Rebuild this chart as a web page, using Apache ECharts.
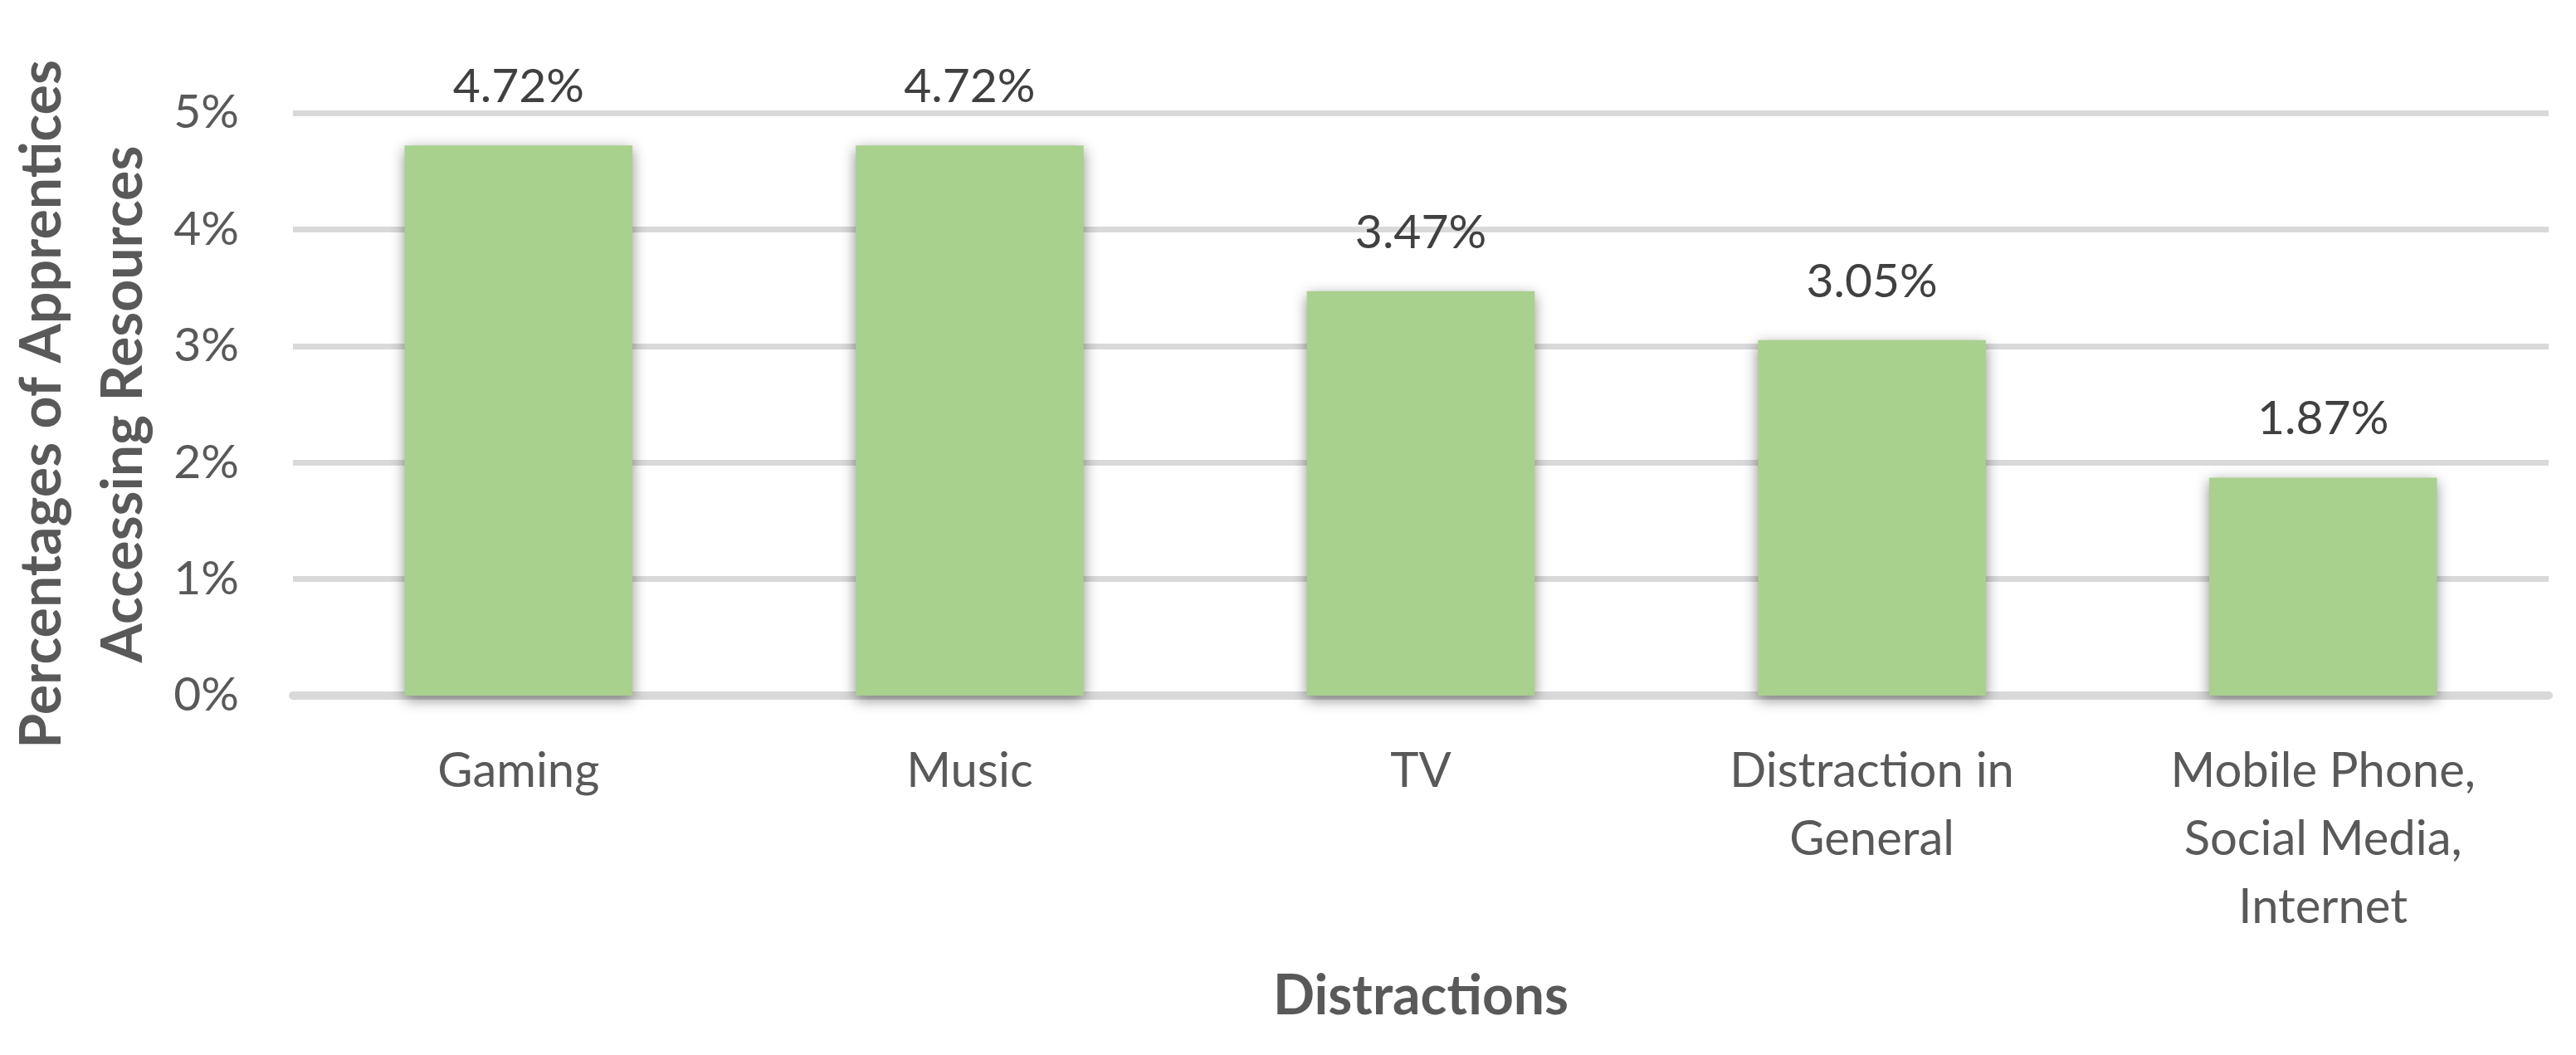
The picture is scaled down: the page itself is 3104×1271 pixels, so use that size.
<!DOCTYPE html>
<html>
<head>
<meta charset="utf-8">
<title>Distractions</title>
<script src="https://cdn.jsdelivr.net/npm/echarts@6/dist/echarts.min.js"></script>
<style>
  html, body { margin: 0; padding: 0; background: #fff; }
  #chart { width: 3104px; height: 1271px; }
</style>
</head>
<body>
<div id="chart"></div>
<script>
// categories along the x axis
const categories = [
  'Gaming',
  'Music',
  'TV',
  'Distraction in\nGeneral',
  'Mobile Phone,\nSocial Media,\nInternet'
]
// percentage of apprentices for each distraction
const values = [4.72, 4.72, 3.47, 3.05, 1.87]
// y axis ticks (percent)
const yMin = 0
const yMax = 5
const yStep = 1

const FONT = 'Lato, "Noto Sans", sans-serif'

const chart = echarts.init(document.getElementById('chart'))
chart.setOption({
  backgroundColor: '#ffffff',
  animation: false,
  grid: { left: 353, right: 33, top: 136, bottom: 433, outerBoundsMode: 'none', containLabel: false },
  xAxis: {
    type: 'category',
    data: categories,
    name: 'Distractions',
    nameLocation: 'middle',
    nameGap: 330,
    nameTextStyle: { fontFamily: FONT, fontSize: 66, fontWeight: 'bold', color: '#595959' },
    axisLine: { show: true, lineStyle: { color: '#d9d9d9', width: 10 } },
    axisTick: { show: false },
    axisLabel: {
      interval: 0,
      margin: 50,
      fontFamily: FONT,
      fontSize: 58,
      lineHeight: 82,
      color: '#595959',
      align: 'center'
    }
  },
  yAxis: {
    type: 'value',
    min: yMin,
    max: yMax,
    interval: yStep,
    name: 'Percentages of Apprentices\nAccessing Resources',
    nameLocation: 'middle',
    nameRotate: 90,
    nameGap: 140,
    nameTextStyle: {
      fontFamily: FONT, fontSize: 68, fontWeight: 'bold', color: '#595959',
      lineHeight: 98, align: 'center'
    },
    axisLine: { show: false },
    axisTick: { show: false },
    axisLabel: {
      margin: 65,
      fontFamily: FONT,
      fontSize: 57,
      color: '#595959',
      formatter: '{value}%'
    },
    splitLine: { lineStyle: { color: '#d9d9d9', width: 7 } }
  },
  series: [{
    type: 'bar',
    data: values,
    barWidth: '50.5%',
    itemStyle: {
      color: '#a9d18e',
      shadowBlur: 16,
      shadowColor: 'rgba(0,0,0,0.45)',
      shadowOffsetX: 0,
      shadowOffsetY: 5
    },
    label: {
      show: true,
      position: 'top',
      distance: 42,
      fontFamily: FONT,
      fontSize: 57,
      color: '#404040',
      formatter: p => p.value.toFixed(2) + '%'
    }
  }]
})
</script>
</body>
</html>
